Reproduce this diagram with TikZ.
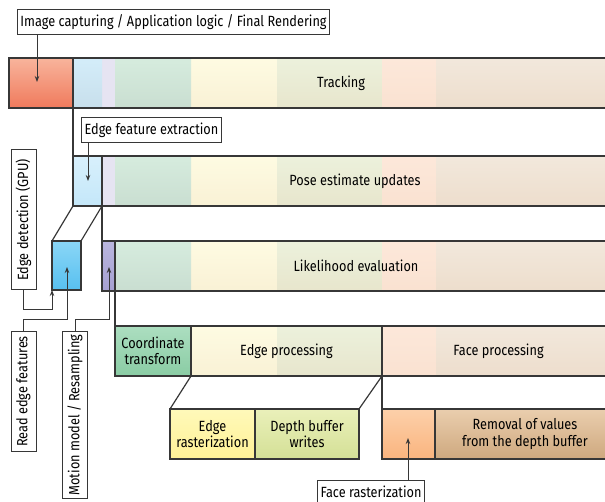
\documentclass[tikz,border=0pt]{standalone}
\usepackage{fontspec}
\setmainfont{Fira Sans}[FakeStretch=0.86]
\usetikzlibrary{positioning}
\usetikzlibrary{arrows.meta}
\definecolor{linegray}{RGB}{55,55,55}
\definecolor{redtop}{RGB}{248,180,156}
\definecolor{redbot}{RGB}{240,122,92}
\definecolor{fblue}{RGB}{212,237,250}
\definecolor{flav}{RGB}{230,228,242}
\definecolor{fgreen}{RGB}{214,236,222}
\definecolor{fyellow}{RGB}{254,251,226}
\definecolor{flgreen}{RGB}{236,241,220}
\definecolor{fpeach}{RGB}{253,232,218}
\definecolor{ftan}{RGB}{242,232,220}
\definecolor{bluetop}{RGB}{216,240,252}
\definecolor{bluebot}{RGB}{196,231,249}
\definecolor{purpletop}{RGB}{186,182,222}
\definecolor{purplebot}{RGB}{166,160,210}
\definecolor{gputop}{RGB}{138,214,246}
\definecolor{gpubot}{RGB}{88,192,240}
\definecolor{coordtop}{RGB}{172,222,192}
\definecolor{coordbot}{RGB}{138,204,164}
\definecolor{edgetop}{RGB}{255,249,186}
\definecolor{edgebot}{RGB}{255,241,150}
\definecolor{depthtop}{RGB}{234,240,186}
\definecolor{depthbot}{RGB}{212,224,150}
\definecolor{orangetop}{RGB}{252,208,170}
\definecolor{orangebot}{RGB}{250,180,126}
\definecolor{removaltop}{RGB}{234,206,174}
\definecolor{removalbot}{RGB}{206,168,126}
\tikzset{
seg/.style={ % coloured block of a bar
anchor=north west,
inner sep=0pt,
outer sep=0pt,
minimum height=50pt,
draw=linegray,
line width=1.2pt},
lbl/.style={ % white caption box
draw=linegray,
line width=1pt,
fill=white,
inner sep=0pt,
minimum height=25pt},
arr/.style={draw=linegray,line width=1pt,-{Stealth[length=6pt,width=4.5pt]}},
wire/.style={draw=linegray,line width=1.2pt}}

\begin{document}
\begin{tikzpicture}[x=1pt,y=-1pt,font=\fontsize{14.8}{16.5}\selectfont]
\useasboundingbox (0,0) rectangle (605,502);
% faded columns behind the bars
\foreach \y in {58,156,241,326} {
\fill[top color=fyellow,bottom color=fyellow!92!brown] (191,\y) rectangle (277,\y+50);
\fill[top color=flgreen,bottom color=flgreen!90!brown] (277,\y) rectangle (382,\y+50);
\fill[top color=fpeach,bottom color=fpeach!94!brown] (382,\y) rectangle (436,\y+50);
\fill[top color=ftan,bottom color=ftan!90!brown] (436,\y) rectangle (615,\y+50);
}
\foreach \y in {58,156,241} {
\fill[top color=fgreen,bottom color=fgreen!94!black] (115,\y) rectangle (191,\y+50);
}
\foreach \y in {58,156} {
\fill[flav] (102,\y) rectangle (115,\y+50);
}
\fill[top color=fblue,bottom color=fblue!94!black] (73,58) rectangle (102,108);
% bars
\node[seg, minimum width=606pt] (r1) at (9,58) {};
\node[seg, minimum width=64pt, top color=redtop, bottom color=redbot] (r1red) at (9,58) {};
\node[seg, minimum width=542pt] (r2) at (73,156) {};
\node[seg, minimum width=29pt, top color=bluetop, bottom color=bluebot] (r2blue) at (73,156) {};
\node[seg, minimum width=513pt] (r3) at (102,241) {};
\node[seg, minimum width=13pt, top color=purpletop, bottom color=purplebot] (r3purple) at (102,241) {};
\node[seg, minimum width=29pt, minimum height=49pt, top color=gputop, bottom color=gpubot] (gpu) at (52,241) {};
\node[seg, minimum width=76pt, top color=coordtop, bottom color=coordbot, align=center] (r4coord) at (115,326) {Coordinate\\transform};
\node[seg, minimum width=191pt] (r4edge) at (191,326) {Edge processing};
\node[seg, minimum width=233pt] (r4face) at (382,326) {Face processing};
\node[seg, minimum width=85pt, top color=edgetop, bottom color=edgebot, align=center] (r5edge) at (170,409) {Edge\\rasterization};
\node[seg, minimum width=104pt, top color=depthtop, bottom color=depthbot, align=center] (r5depth) at (255,409) {Depth buffer\\writes};
\node[seg, minimum width=53pt, top color=orangetop, bottom color=orangebot] (r5face) at (382,409) {};
\node[seg, minimum width=180pt, top color=removaltop, bottom color=removalbot, align=center] (r5removal) at (435,409) {Removal of values\\from the depth buffer};
% bar titles
\node (t1) at (341,83) {Tracking};
\node (t2) at (355,181) {Pose estimate updates};
\node (t3) at (356,266) {Likelihood evaluation};
% links between levels
\draw[wire] (r1red.south east) -- (r2blue.north west);
\draw[wire] (r2blue.south east) -- (r3purple.north west);
\draw[wire] (r2blue.south west) -- (gpu.north west);
\draw[wire] (r2blue.south east) -- (gpu.north east);
\draw[wire] (r3purple.south east) -- (r4coord.north west);
\draw[wire] (r4coord.south east) -- (r5edge.north west);
\draw[wire] (r4edge.south east) -- (r5depth.north east);
\draw[wire] (r4edge.south east) -- (r5face.north west);
% captions
\node[lbl, anchor=north west, minimum width=312pt] (limg) at (17,9) {Image capturing / Application logic / Final Rendering};
\node[lbl, anchor=north west, minimum width=140pt] (lfeat) at (81,117) {Edge feature extraction};
\node[lbl, rotate=90, minimum width=140pt] (lgpu) at (23.5,220) {Edge detection (GPU)};
\node[lbl, rotate=90, minimum width=119pt] (lread) at (23.5,391.5) {Read edge features};
\node[lbl, rotate=90, minimum width=166pt] (lmotion) at (75,415) {Motion model / Resampling};
\node[lbl, anchor=north west, minimum width=107pt, minimum height=23.5pt] (lface) at (317,480) {Face rasterization};
\coordinate (a1) at (37,82);
\coordinate (a2) at (88,181);
\coordinate (a3) at (408,438);
\coordinate (a4) at (67,267);
\coordinate (a5) at (109,267);
\draw[arr] (limg.south -| a1) -- (a1);
\draw[arr] (lfeat.south -| a2) -- (a2);
\draw[arr] (lface.north -| a3) -- (a3);
\draw[arr] (lgpu.west) -- ++(0,19) -| (gpu.south west);
\draw[arr] (lread.east) -- ++(0,-12) -| (a4);
\draw[arr] (lmotion.east) -- ++(0,-12) -| (a5);
\end{tikzpicture}
\end{document}
